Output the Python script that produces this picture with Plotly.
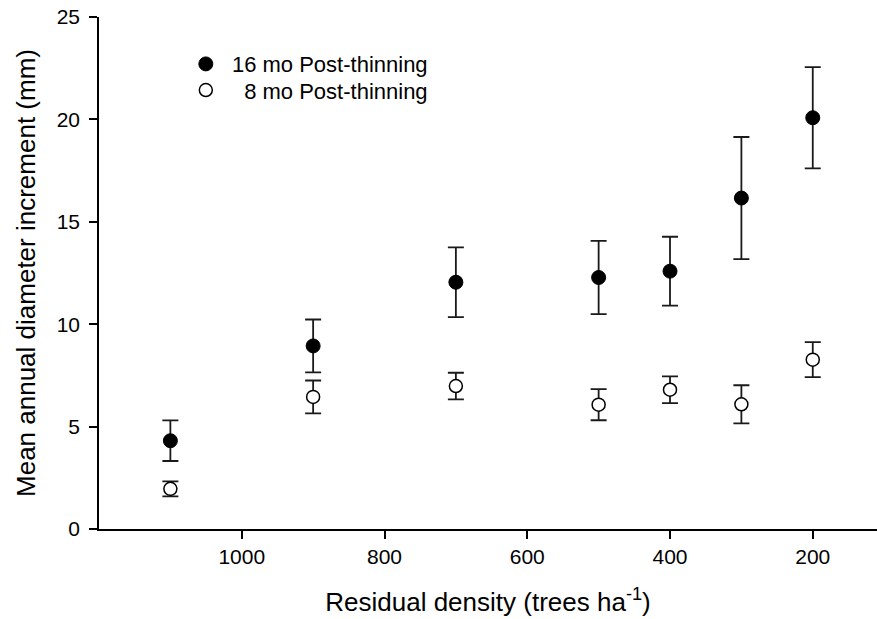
import plotly.graph_objects as go

density = [1100, 900, 700, 500, 400, 300, 200]
mean_16mo = [4.31, 8.94, 12.05, 12.28, 12.59, 16.16, 20.08]
se_16mo = [0.99, 1.29, 1.70, 1.79, 1.68, 2.98, 2.47]
mean_8mo = [1.96, 6.45, 6.98, 6.07, 6.80, 6.09, 8.27]
se_8mo = [0.37, 0.80, 0.65, 0.76, 0.65, 0.93, 0.85]

x_ticks = [1000, 800, 600, 400, 200]
y_ticks = [0, 5, 10, 15, 20, 25]

FONT = "Liberation Sans, Arial, sans-serif"

fig = go.Figure()
fig.add_trace(go.Scatter(
    x=density, y=mean_16mo, mode="markers",
    name="\u00a016 mo Post-thinning",
    marker=dict(symbol="circle", size=14, color="black", line=dict(color="black", width=1)),
    error_y=dict(type="data", array=se_16mo, visible=True, color="#1a1a1a", thickness=1.8, width=8),
    legend="legend", showlegend=True,
))
fig.add_trace(go.Scatter(
    x=density, y=mean_8mo, mode="markers",
    name="\u2007\u00a08 mo Post-thinning",
    marker=dict(symbol="circle", size=13, color="white", line=dict(color="black", width=1.5)),
    error_y=dict(type="data", array=se_8mo, visible=True, color="#1a1a1a", thickness=1.8, width=8),
    legend="legend2", showlegend=True,
))

axis_common = dict(
    showgrid=False, zeroline=False, showline=True, linecolor="black", linewidth=1.5,
    ticks="outside", ticklen=8, tickwidth=1.5, tickcolor="black",
    tickfont=dict(family=FONT, size=21, color="black"),
)

fig.update_layout(
    width=877, height=619,
    margin=dict(l=99, r=0, t=17, b=90),
    plot_bgcolor="white", paper_bgcolor="white",
    font=dict(family=FONT, color="black"),
    showlegend=True,
    xaxis=dict(
        range=[1200, 110], tickvals=x_ticks,
        title=dict(text="Residual density (trees ha<sup>-1</sup>)", font=dict(family=FONT, size=26), standoff=26),
        **axis_common,
    ),
    yaxis=dict(
        range=[0, 25], tickvals=y_ticks, ticklabelstandoff=5,
        title=dict(text="Mean annual diameter increment (mm)", font=dict(family=FONT, size=26), standoff=14),
        **axis_common,
    ),
    legend=dict(x=0.1116, y=0.908, xanchor="left", yanchor="middle", bgcolor="rgba(0,0,0,0)",
                font=dict(family=FONT, size=22, color="black"), borderwidth=0),
    legend2=dict(x=0.1116, y=0.857, xanchor="left", yanchor="middle", bgcolor="rgba(0,0,0,0)",
                 font=dict(family=FONT, size=22, color="black"), borderwidth=0),
)

fig.write_html("out.html")
